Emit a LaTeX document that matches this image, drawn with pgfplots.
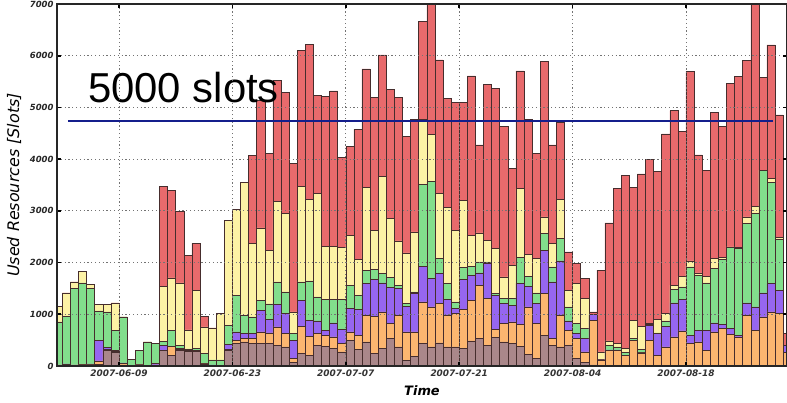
\documentclass[border=0pt]{standalone}
\usepackage{pgfplots}
\pgfplotsset{compat=1.18}
\usepackage{pgfplotstable}
\usepackage{fontspec}
\setmainfont{DejaVu Sans}
\newfontfamily\arialfont{Liberation Sans}

\definecolor{cRed}{RGB}{232,106,108}
\definecolor{cYellow}{RGB}{253,242,165}
\definecolor{cGreen}{RGB}{130,222,140}
\definecolor{cPurple}{RGB}{150,102,240}
\definecolor{cOrange}{RGB}{252,182,112}
\definecolor{cBrown}{RGB}{170,135,138}
\definecolor{cEdge}{RGB}{70,45,45}
\definecolor{cBlue}{RGB}{20,30,140}

% cumulative tops per day: brown, orange, purple, green, yellow, red
\pgfplotstableread{
d  b   o    p    g    y    r
0  15  20   20   852  1156 1156
1  30  35   40   962  1414 1414
2  10  20   20   1498 1627 1627
3  10  20   30   1608 1834 1834
4  10  20   40   1498 1582 1582
5  30  100  500  1065 1195 1195
6  300 320  360  1046 1195 1195
7  260 280  300  690  1220 1220
8  20  50   60   949  949  949
9  10  10   10   123  123  123
10 20  20   30   303  303  303
11 10  10   10   465  465  465
12 20  20   50   433  433  433
13 300 300  400  470  1543 3467
14 200 380  380  690  1705 3390
15 300 320  340  400  1608 2990
16 280 290  300  330  700  2144
17 280 290  300  340  1466 2370
18 30  40   50   240  755  962
19 10  10   20   120  736  736
20 10  10   10   120  1014 1014
21 300 320  420  788  2809 2809
22 433 497  659  1369 3030 3030
23 465 530  626  981  3545 3545
24 433 530  626  949  2370 4075
25 433 659  1078 1272 2673 5133
26 433 640  900  1200 2241 4113
27 400 755  1195 1627 3177 5521
28 368 626  1014 1433 2951 5288
29 65  142  497  626  1046 3919
30 239 768  1272 1627 3480 6102
31 207 575  885  1647 3222 6225
32 400 626  872  1337 3338 5230
33 381 594  691  1285 2318 5211
34 336 562  833  1285 2318 5321
35 271 433  704  1285 2292 4029
36 497 659  1111 1563 2531 4242
37 316 594  1091 1369 2060 4578
38 465 981  1595 1853 3448 5747
39 239 962  1672 1866 2628 5191
40 336 1046 1608 1789 3661 6018
41 529 820  1517 1711 2854 5353
42 368 981  1500 1563 2421 5191
43 110 659  1150 1207 2189 4436
44 187 659  1400 1433 2596 4772
45 433 1240 1931 3519 4772 6664
46 368 1143 1692 3564 4481 7300
47 446 1207 1789 2079 3338 5921
48 368 981  1285 1595 3067 5178
49 368 1014 1111 1240 2628 5095
50 336 1091 1672 1905 3196 5095
51 484 1272 1756 1931 2531 5611
52 529 1563 1801 2015 2576 4275
53 400 1304 1982 2015 2434 5450
54 549 704  1369 1401 2273 5372
55 465 820  1207 1304 1724 4630
56 433 852  1175 1304 1950 3823
57 380 800  1600 2099 3435 5708
58 226 1143 1543 1737 2163 4772
59 142 820  1207 1414 2079 4113
60 594 1401 2241 2563 2886 5889
61 400 529  1627 1918 2370 4275
62 368 981  2034 2467 3222 4707
63 400 691  872  1143 1466 2208
64 142 529  626  820  1595 1982
65 77  271  529  723  1304 1692
66 20  885  994  994  994  1046
67 0   120  120  130  271  1853
68 0   300  310  400  484  2770
69 0   303  310  368  433  3435
70 0   200  210  270  340  3693
71 0   497  500  530  885  3455
72 0   252  260  316  768  3713
73 0   497  788  800  820  3997
74 0   207  626  640  898  3758
75 0   368  768  872  1014 4487
76 0   562  1220 1479 1563 4940
77 0   678  1285 1530 1737 4533
78 0   433  594  1918 2034 5695
79 0   465  691  1750 1801 4081
80 0   303  691  1608 1737 3777
81 0   659  833  1886 2079 4901
82 0   723  807  2060 2099 4630
83 0   613  723  2292 2305 5469
84 0   562  594  2273 2292 5598
85 0   981  1220 2757 2886 5908
86 0   691  1143 2951 3080 7300
87 0   949  1414 3790 3790 5585
88 0   1046 1595 3545 3629 6212
89 0   1014 1466 2447 2486 4856
90 0   270  400  400  400  630
}\slots

\begin{document}
\begin{tikzpicture}
\begin{axis}[
    at={(57bp,37bp)}, anchor=south west,
    scale only axis, width=730bp, height=362bp,
    xmin=0.35, xmax=90.47, ymin=0, ymax=7000,
    ybar, bar width=1, bar shift=0pt,
    axis on top,
    xtick={8,22,36,50,64,78},
    xticklabels={2007-06-09,2007-06-23,2007-07-07,2007-07-21,2007-08-04,2007-08-18},
    ytick={0,1000,2000,3000,4000,5000,6000,7000},
    scaled y ticks=false,
    yticklabel style={/pgf/number format/assume math mode=true, /pgf/number format/1000 sep={},
        font=\fontsize{8.5}{10}\selectfont\bfseries\itshape, text=black!85},
    xticklabel style={font=\fontsize{9}{10}\selectfont\bfseries\itshape, text=black!80},
    grid=major,
    major grid style={dash pattern=on 1.2bp off 2.6bp, black!55, line width=0.8bp},
    tick align=inside,
    major tick length=4bp,
    every tick/.style={black, line width=1.6bp},
    axis line style={black!85, line width=1.1bp},
    xlabel={Time},
    ylabel={Used Resources [Slots]},
    every axis x label/.style={at={(rel axis cs:0.5,0)}, yshift=-25bp, anchor=center,
        font=\fontsize{13}{15}\selectfont\bfseries\itshape},
    every axis y label/.style={at={(rel axis cs:0,0.5)}, xshift=-43bp, rotate=90, anchor=center,
        font=\fontsize{16}{18}\selectfont\itshape},
]
\addplot[fill=cRed, draw=cEdge, line width=0.5bp] table[x expr=\thisrow{d}+0.5, y=r] \slots;
\addplot[fill=cYellow, draw=cEdge, line width=0.5bp] table[x expr=\thisrow{d}+0.5, y=y] \slots;
\addplot[fill=cGreen, draw=cEdge, line width=0.5bp] table[x expr=\thisrow{d}+0.5, y=g] \slots;
\addplot[fill=cPurple, draw=cEdge, line width=0.5bp] table[x expr=\thisrow{d}+0.5, y=p] \slots;
\addplot[fill=cOrange, draw=cEdge, line width=0.5bp] table[x expr=\thisrow{d}+0.5, y=o] \slots;
\addplot[fill=cBrown, draw=cEdge, line width=0.5bp] table[x expr=\thisrow{d}+0.5, y=b] \slots;
% capacity line
\addplot[sharp plot, no marks, fill=none, draw=cBlue, line width=1.4bp]
    coordinates {(1.7,4740) (88.7,4740)};
\node[font=\arialfont\fontsize{42}{48}\selectfont, anchor=base west, inner sep=0pt]
    at (axis cs:4.17,5090) {5000 slots};
\end{axis}
\pgfresetboundingbox
\path[use as bounding box] (0,0) rectangle (787bp,403bp);
\end{tikzpicture}
\end{document}
